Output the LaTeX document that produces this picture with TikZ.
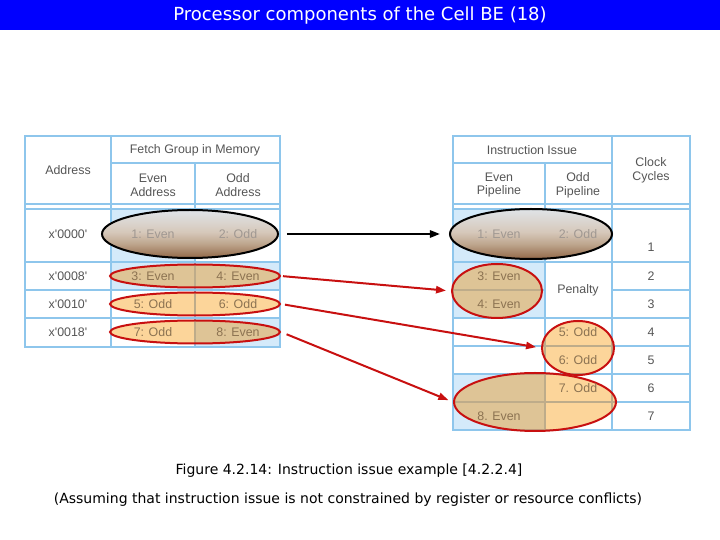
\documentclass[tikz,border=0pt]{standalone}
\usepackage{fontspec}
\setmainfont{DejaVu Sans}
\newfontfamily\tabfont{Liberation Sans}
\usetikzlibrary{shapes.geometric, arrows.meta}

\definecolor{titleblue}{RGB}{0,0,255}
\definecolor{gridblue}{RGB}{142,198,236}
\definecolor{cellblue}{RGB}{212,234,250}
\definecolor{issueorange}{RGB}{252,213,154}
\definecolor{tancell}{RGB}{222,196,150}
\definecolor{tanline}{RGB}{190,172,138}
\definecolor{ringred}{RGB}{200,16,16}
\definecolor{cellgray}{RGB}{85,85,85}
\definecolor{dimbrown}{RGB}{140,115,82}
\definecolor{fadegray}{RGB}{160,152,146}
\definecolor{grouptop}{RGB}{224,228,232}
\definecolor{groupmid}{RGB}{214,200,186}
\definecolor{groupdeep}{RGB}{190,166,142}
\definecolor{groupbottom}{RGB}{146,104,72}

% light top, brown bottom of the first fetch group
\pgfdeclareverticalshading{groupshade}{100bp}{color(0bp)=(groupbottom); color(25bp)=(groupbottom);
  color(40bp)=(groupdeep); color(52bp)=(groupmid); color(75bp)=(grouptop); color(100bp)=(grouptop)}

% cells holding even instructions
\newcommand{\evencells}{(111,209) rectangle (195,290) (195,262) rectangle (280,290)
  (195,318) rectangle (280,347) (453,209) rectangle (545,318) (453,374) rectangle (545,430)}
% rules of both tables
\newcommand{\tablegrid}{(25,136) rectangle (280,347) (111,136) -- (111,347)
  (195,163) -- (195,347) (111,163) -- (280,163)
  (25,204) -- (280,204) (25,209) -- (280,209) (25,262) -- (280,262)
  (25,290) -- (280,290) (25,318) -- (280,318)
  (453,136) rectangle (690,430) (545,163) -- (545,430) (612,136) -- (612,430)
  (453,163) -- (612,163) (453,204) -- (690,204) (453,209) -- (690,209)
  (453,262) -- (690,262) (453,318) -- (690,318) (453,346) -- (690,346)
  (453,374) -- (690,374) (453,402) -- (690,402)
  (453,290) -- (545,290) (612,290) -- (690,290)}

\tikzset{
  cell/.style={font=\tabfont\fontsize{6.2}{6.9}\selectfont, text=cellgray, align=center, inner sep=0pt},
  dimcell/.style={cell, text=dimbrown},
  fadecell/.style={cell, text=fadegray},
  gridline/.style={gridblue, line width=0.8pt},
  issuering/.style={ellipse, draw=ringred, line width=1pt, inner sep=0pt},
  groupring/.style={ellipse, draw=black, line width=1pt, inner sep=0pt, shading=groupshade},
  moveto/.style={ringred, line width=1pt, -{Triangle[length=5pt,width=3.6pt]}}
}

\begin{document}
\begin{tikzpicture}[x=0.5pt, y=-0.5pt, >=stealth]
    \useasboundingbox (0,0) rectangle (720,540);

    % Title bar
    \fill[titleblue] (0,0) rectangle (720,30);
    \node[text=white, font=\fontsize{9}{11}\selectfont] (title) at (360,16) {Processor components of the Cell BE (18)};

    % Tables
    \fill[cellblue] \evencells;
    \draw[gridline] \tablegrid;

    % Orange fill of the later fetch groups, tan over even cells
    \begin{scope}
        \clip (195,276) ellipse [x radius=85, y radius=11.5]
              (195,304) ellipse [x radius=85, y radius=11.5]
              (195,332) ellipse [x radius=85, y radius=11.5]
              (497,291) ellipse [x radius=45, y radius=27]
              (578,348) ellipse [x radius=36, y radius=27]
              (535,402) ellipse [x radius=81, y radius=29];
        \fill[issueorange] (0,0) rectangle (720,540);
        \fill[tancell] \evencells;
        \draw[gridline, tanline] \tablegrid;
    \end{scope}

    % First fetch group, issued together
    \node[groupring, minimum width=88pt, minimum height=24pt] (fetch0) at (190,234) {};
    \node[groupring, minimum width=81pt, minimum height=25pt] (issue0) at (531,234) {};

    % Later fetch groups and where they issue
    \node[issuering, minimum width=85pt, minimum height=11.5pt] (fetch1) at (195,276) {};
    \node[issuering, minimum width=85pt, minimum height=11.5pt] (fetch2) at (195,304) {};
    \node[issuering, minimum width=85pt, minimum height=11.5pt] (fetch3) at (195,332) {};
    \node[issuering, minimum width=45pt, minimum height=27pt] (issue1) at (497,291) {};
    \node[issuering, minimum width=36pt, minimum height=27pt] (issue2) at (578,348) {};
    \node[issuering, minimum width=81pt, minimum height=29pt] (issue3) at (535,402) {};

    % Fetch table text
    \node[cell] (addr) at (68,170) {Address};
    \node[cell] (fetchgrp) at (195,150) {Fetch Group in Memory};
    \node[cell] (evenaddr) at (153,185) {Even\\Address};
    \node[cell] (oddaddr) at (238,185) {Odd\\Address};
    \foreach \a/\y in {0000/234,0008/276,0010/304,0018/332}
        \node[cell] (row\a) at (68,\y) {x'\a'};
    \node[fadecell] (f1) at (153,234) {1: Even};
    \node[fadecell] (f2) at (238,234) {2: Odd};
    \node[dimcell] (f3) at (153,276) {3: Even};
    \node[dimcell] (f4) at (238,276) {4: Even};
    \node[dimcell] (f5) at (153,304) {5: Odd};
    \node[dimcell] (f6) at (238,304) {6: Odd};
    \node[dimcell] (f7) at (153,332) {7: Odd};
    \node[dimcell] (f8) at (238,332) {8: Even};

    % Issue table text
    \node[cell] (issuehead) at (532,150) {Instruction Issue};
    \node[cell] (evenpipe) at (499,185) {Even\\Pipeline};
    \node[cell] (oddpipe) at (578,185) {Odd\\Pipeline};
    \node[cell] (clock) at (651,170) {Clock\\Cycles};
    \node[fadecell] (i1) at (499,234) {1: Even};
    \node[fadecell] (i2) at (578,234) {2: Odd};
    \node[dimcell] (i3) at (499,276) {3: Even};
    \node[dimcell] (i4) at (499,304) {4: Even};
    \node[cell] (penalty) at (578,290) {Penalty};
    \node[dimcell] (i5) at (578,332) {5: Odd};
    \node[dimcell] (i6) at (578,360) {6: Odd};
    \node[dimcell] (i7) at (578,388) {7. Odd};
    \node[dimcell] (i8) at (499,416) {8. Even};
    \foreach \n/\y in {1/247,2/276,3/304,4/332,5/360,6/388,7/416}
        \node[cell] (cyc\n) at (651,\y) {\n};

    % Moves from memory to pipelines
    \draw[moveto, black, shorten <=4pt, shorten >=4.5pt] (fetch0.east) -- (issue0.west);
    \draw[moveto, shorten <=1pt, shorten >=2.5pt] (fetch1.east) -- (issue1.west);
    \draw[moveto, shorten <=2pt, shorten >=2.5pt] (fetch2.east) -- (issue2.west);
    \draw[moveto, shorten <=3pt, shorten >=2.5pt] (fetch3.east) -- (issue3.west);

    % Caption
    \node[font=\fontsize{7}{9}\selectfont] (caption) at (349,471) {Figure 4.2.14: Instruction issue example [4.2.2.4]};
    \node[font=\fontsize{7}{9}\selectfont] (note) at (348,500) {(Assuming that instruction issue is not constrained by register or resource conflicts)};
\end{tikzpicture}
\end{document}
